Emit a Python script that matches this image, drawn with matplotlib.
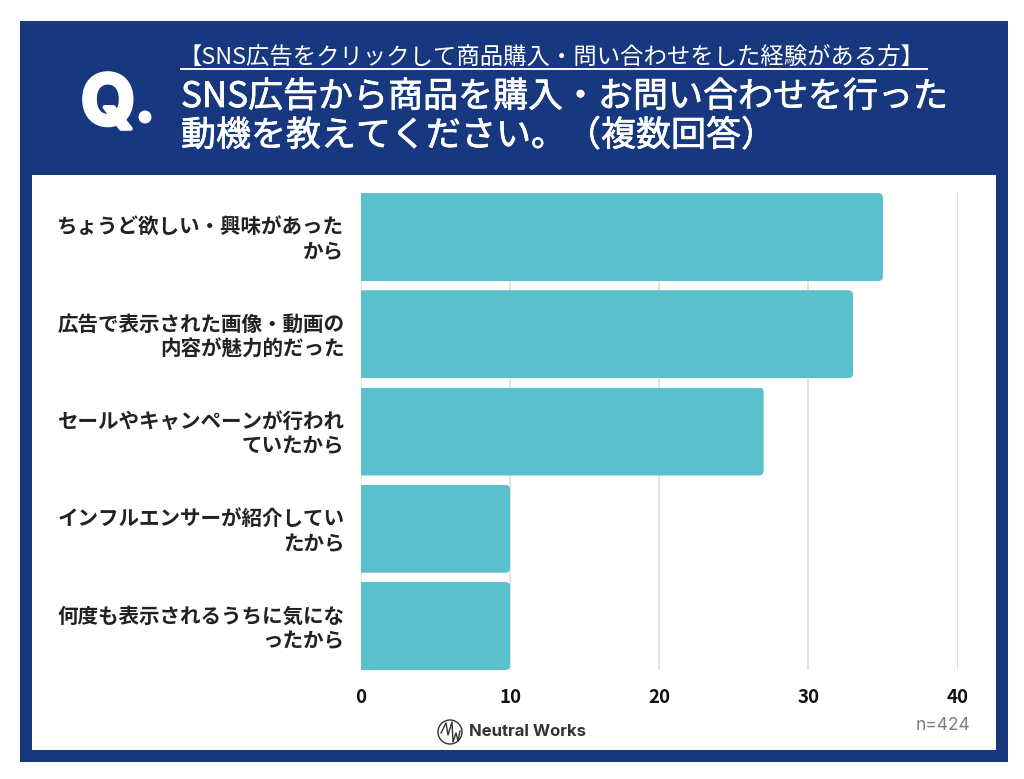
import matplotlib
matplotlib.use('Agg')
import matplotlib.pyplot as plt
import matplotlib.patheffects as pe
from matplotlib.patches import Rectangle, FancyBboxPatch, Circle
from matplotlib.transforms import IdentityTransform, ScaledTranslation

plt.rcParams['font.family'] = ['Noto Sans CJK JP', 'DejaVu Sans']

# datos
categorias = [
    'ちょうど欲しい・興味があった\nから',
    '広告で表示された画像・動画の\n内容が魅力的だった',
    'セールやキャンペーンが行われ\nていたから',
    'インフルエンサーが紹介してい\nたから',
    '何度も表示されるうちに気にな\nったから',
]
valores = [35, 33, 27, 10, 10]
ticks_x = [0, 10, 20, 30, 40]
subtitulo = '【SNS広告をクリックして商品購入・問い合わせをした経験がある方】'
titulo_1 = 'SNS広告から商品を購入・お問い合わせを行った'
titulo_2 = '動機を教えてください。（複数回答）'
nota_n = 'n=424'
marca = 'Neutral Works'

AZUL = '#17377F'
TEAL = '#5AC1CC'
W, H = 1024, 779

fig = plt.figure(figsize=(W / 100, H / 100), dpi=100, facecolor='white')

# capa de fondo en coordenadas de pixel
bg = fig.add_axes([0, 0, 1, 1], zorder=0)
bg.set_xlim(0, W)
bg.set_ylim(H, 0)
bg.axis('off')
bg.add_patch(Rectangle((20, 21), 988, 741, fc=AZUL, ec='none'))
bg.add_patch(Rectangle((32, 175), 964, 575, fc='white', ec='none'))

# cabecera
bg.text(552, 57, subtitulo, color='white', fontsize=16.8, ha='center', va='center')
bg.plot([181, 927], [68.5, 68.5], color='white', lw=1.4)
grueso = [pe.withStroke(linewidth=0.5, foreground='white')]
bg.text(181, 97, titulo_1, color='white', fontsize=25.2, ha='left', va='center', path_effects=grueso)
bg.text(181, 136, titulo_2, color='white', fontsize=25.2, ha='left', va='center', path_effects=grueso)
q = bg.text(108, 106, 'Q', color='white', fontsize=50, ha='center', va='center',
            fontweight='bold', family='Inter')
q.set_path_effects([pe.withStroke(linewidth=3, foreground='white')])
bg.add_patch(Circle((145, 117), 6.5, fc='white', ec='none'))

# grafico de barras
x0, x1 = 361, 957.5
y0, y1 = 193, 670
ax = fig.add_axes([x0 / W, 1 - y1 / H, (x1 - x0) / W, (y1 - y0) / H], zorder=1)
ax.patch.set_alpha(0)
alto = 88 / 97.25
barras = ax.barh(range(len(valores)), valores, height=alto, color=TEAL, zorder=2)
ax.set_ylim(len(valores) - 1 + alto / 2, -alto / 2)
ax.set_xlim(0, 40)
ax.set_xticks(ticks_x)
ax.set_yticks(range(len(categorias)))
ax.set_yticklabels(categorias, fontsize=14.8, fontweight='bold', color='#222222',
                   linespacing=1.2, ha='right', multialignment='right')
ax.tick_params(axis='both', length=0)
ax.tick_params(axis='y', pad=12)
ax.tick_params(axis='x', pad=13)
subir = ScaledTranslation(0, 1.5 / 100, fig.dpi_scale_trans)
for t in ax.get_yticklabels():
    t.set_transform(t.get_transform() + subir)
for t in ax.get_xticklabels():
    t.set_fontsize(13.5)
    t.set_fontweight('bold')
    t.set_color('#111111')
ax.grid(axis='x', color='#DDDDDD', lw=1.2, zorder=0)
ax.set_axisbelow(True)
for s in ax.spines.values():
    s.set_visible(False)

# esquinas redondeadas solo a la derecha
fig.canvas.draw()
for b in barras:
    bb = b.get_window_extent()
    clip = FancyBboxPatch((bb.x0 - 20, bb.y0), bb.width + 20, bb.height,
                          boxstyle='round,pad=0,rounding_size=5', transform=IdentityTransform())
    b.set_clip_path(clip)

# pie
bg.text(943, 726, nota_n, color='#7F7F7F', fontsize=12.5, ha='center', va='center', family='Inter')
bg.text(469, 731, marca, color='#333333', fontsize=12, ha='left', va='center',
        fontweight='bold', family='Inter')
bg.add_patch(Circle((450, 732), 12, fc='white', ec='#333333', lw=1))
bg.plot([441, 446, 448, 452, 453, 456, 458, 460], [733, 723, 735, 722, 742, 733, 741, 731],
        color='#333333', lw=1)

fig.savefig('out.png', dpi=100)
plt.close(fig)
